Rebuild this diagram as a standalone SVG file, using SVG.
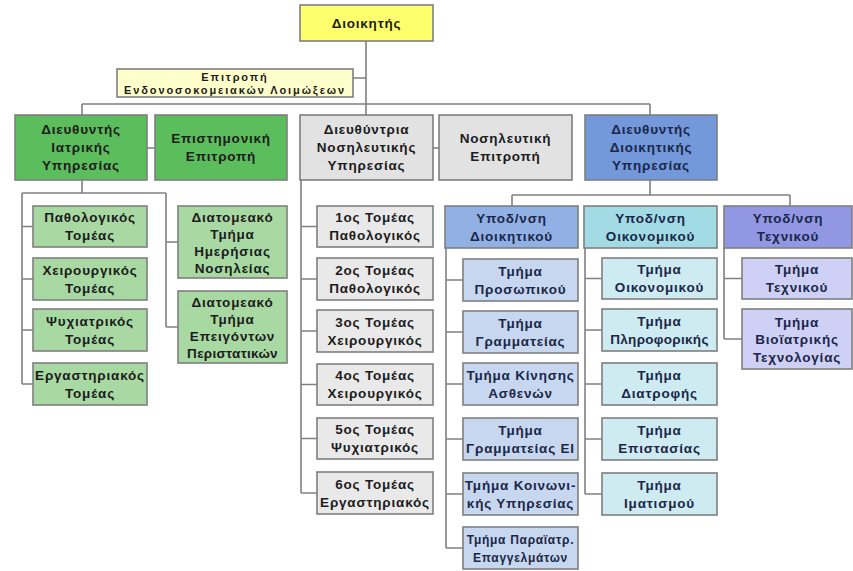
<svg xmlns="http://www.w3.org/2000/svg" width="853" height="571" viewBox="0 0 853 571">
  <style>
    .bx { stroke: #7f7f7f; stroke-width: 1.6; }
    .t { font-family: "Liberation Sans", Arial, "DejaVu Sans", sans-serif; font-weight: bold; font-size: 13.5px; letter-spacing: 0.8px; text-anchor: middle; fill: #1c1c1c; }
    .s { font-size: 12px; letter-spacing: 0.7px; }
    .c { font-size: 11px; letter-spacing: 1.9px; }
    .k { letter-spacing: 0.3px; }
    .n { fill: #1b2748; }
    .yel { fill: #ffff6e; }
    .lyel { fill: #ffffcc; }
    .grn { fill: #5cbd5c; }
    .lgrn { fill: #a8d9a3; }
    .gry { fill: #e2e2e2; }
    .lgry { fill: #e9e9e9; }
    .blu { fill: #7399db; }
    .adm { fill: #91b1e4; }
    .ladm { fill: #c7d7ef; }
    .eco { fill: #a3dbe5; }
    .leco { fill: #cdebf1; }
    .tec { fill: #9297e3; }
    .ltec { fill: #cfd0f6; }
    #connectors path { fill: none; stroke: #808080; stroke-width: 1.6; }
  </style>
  <rect width="853" height="571" fill="#ffffff"/>

  <g id="connectors">
    <!-- top trunk and main bus -->
    <path d="M366,41 V104 M353,78 H366 M82,104 H650 M82,104 V115 M366,104 V115 M650,104 V115"/>
    <!-- side committees -->
    <path d="M147,148 H155 M433,148 H439"/>
    <!-- medical services -->
    <path d="M82,180 V193 M22,193 H166 M22,193 V384 M22,226.5 H33 M22,279 H33 M22,330 H33 M22,384 H33"/>
    <path d="M166,193 V327 M166,242 H178 M166,327 H178"/>
    <!-- nursing services -->
    <path d="M301,180 V493 M301,226.5 H317 M301,279 H317 M301,331 H317 M301,384.5 H317 M301,438.5 H317 M301,493 H317"/>
    <!-- administrative services -->
    <path d="M650,180 V195 M512,195 H790 M512,195 V206 M790,195 V206"/>
    <path d="M446,248 V548 M446,280 H463 M446,332 H463 M446,384 H463 M446,439 H463 M446,494 H463 M446,548 H463"/>
    <path d="M585,248 V494 M585,278.5 H602 M585,330 H602 M585,384 H602 M585,439 H602 M585,494 H602"/>
    <path d="M724,248 V339 M724,278.5 H742 M724,339 H742"/>
  </g>

  <g id="director">
    <rect class="bx yel" x="300" y="5" width="133" height="36"/>
    <text class="t" x="366.5" y="27.5">Διοικητής</text>
  </g>

  <g id="infection-committee">
    <rect class="bx lyel" x="117" y="69" width="236" height="28"/>
    <text class="t c" x="235" y="80.5">Επιτροπή</text>
    <text class="t c" x="235" y="93.5">Ενδονοσοκομειακών Λοιμώξεων</text>
  </g>

  <!-- medical services -->
  <g id="medical-director">
    <rect class="bx grn" x="15" y="115" width="132" height="65"/>
    <text class="t" x="81" y="134">Διευθυντής</text>
    <text class="t" x="81" y="152">Ιατρικής</text>
    <text class="t" x="81" y="170">Υπηρεσίας</text>
  </g>
  <g id="scientific-committee">
    <rect class="bx grn" x="155" y="115" width="132" height="65"/>
    <text class="t" x="221" y="143">Επιστημονική</text>
    <text class="t" x="221" y="161">Επιτροπή</text>
  </g>
  <g id="pathology">
    <rect class="bx lgrn" x="33" y="206" width="114" height="41"/>
    <text class="t" x="90" y="222">Παθολογικός</text>
    <text class="t" x="90" y="240">Τομέας</text>
  </g>
  <g id="surgery">
    <rect class="bx lgrn" x="33" y="258" width="114" height="42"/>
    <text class="t" x="90" y="274.5">Χειρουργικός</text>
    <text class="t" x="90" y="292.5">Τομέας</text>
  </g>
  <g id="psychiatry">
    <rect class="bx lgrn" x="33" y="309" width="114" height="42"/>
    <text class="t" x="90" y="325.5">Ψυχιατρικός</text>
    <text class="t" x="90" y="343.5">Τομέας</text>
  </g>
  <g id="laboratory">
    <rect class="bx lgrn" x="33" y="363" width="114" height="42"/>
    <text class="t" x="90" y="379.5">Εργαστηριακός</text>
    <text class="t" x="90" y="397.5">Τομέας</text>
  </g>
  <g id="day-care">
    <rect class="bx lgrn" x="178" y="206" width="109" height="72"/>
    <text class="t" x="232.5" y="221.5">Διατομεακό</text>
    <text class="t" x="232.5" y="238.5">Τμήμα</text>
    <text class="t" x="232.5" y="255.5">Ημερήσιας</text>
    <text class="t" x="232.5" y="272.5">Νοσηλείας</text>
  </g>
  <g id="emergency">
    <rect class="bx lgrn" x="178" y="291" width="109" height="72"/>
    <text class="t" x="232.5" y="306.5">Διατομεακό</text>
    <text class="t" x="232.5" y="323.5">Τμήμα</text>
    <text class="t" x="232.5" y="340.5">Επειγόντων</text>
    <text class="t k" x="232.5" y="357.5">Περιστατικών</text>
  </g>

  <!-- nursing services -->
  <g id="nursing-director">
    <rect class="bx gry" x="300" y="115" width="133" height="65"/>
    <text class="t" x="366.5" y="134">Διευθύντρια</text>
    <text class="t" x="366.5" y="152">Νοσηλευτικής</text>
    <text class="t" x="366.5" y="170">Υπηρεσίας</text>
  </g>
  <g id="nursing-committee">
    <rect class="bx gry" x="439" y="115" width="133" height="65"/>
    <text class="t" x="505.5" y="143">Νοσηλευτική</text>
    <text class="t" x="505.5" y="161">Επιτροπή</text>
  </g>
  <g id="sector-1">
    <rect class="bx lgry" x="317" y="206" width="116" height="41"/>
    <text class="t" x="375" y="222">1ος Τομέας</text>
    <text class="t" x="375" y="240">Παθολογικός</text>
  </g>
  <g id="sector-2">
    <rect class="bx lgry" x="317" y="258" width="116" height="42"/>
    <text class="t" x="375" y="274.5">2ος Τομέας</text>
    <text class="t" x="375" y="292.5">Παθολογικός</text>
  </g>
  <g id="sector-3">
    <rect class="bx lgry" x="317" y="310" width="116" height="42"/>
    <text class="t" x="375" y="326.5">3ος Τομέας</text>
    <text class="t" x="375" y="344.5">Χειρουργικός</text>
  </g>
  <g id="sector-4">
    <rect class="bx lgry" x="317" y="364" width="116" height="41"/>
    <text class="t" x="375" y="380">4ος Τομέας</text>
    <text class="t" x="375" y="398">Χειρουργικός</text>
  </g>
  <g id="sector-5">
    <rect class="bx lgry" x="317" y="418" width="116" height="41"/>
    <text class="t" x="375" y="434">5ος Τομέας</text>
    <text class="t" x="375" y="452">Ψυχιατρικός</text>
  </g>
  <g id="sector-6">
    <rect class="bx lgry" x="317" y="472" width="116" height="42"/>
    <text class="t" x="375" y="488.5">6ος Τομέας</text>
    <text class="t" x="375" y="506.5">Εργαστηριακός</text>
  </g>

  <!-- administrative services -->
  <g id="admin-director">
    <rect class="bx blu" x="585" y="115" width="132" height="65"/>
    <text class="t n" x="651" y="134">Διευθυντής</text>
    <text class="t n" x="651" y="152">Διοικητικής</text>
    <text class="t n" x="651" y="170">Υπηρεσίας</text>
  </g>
  <g id="admin-division">
    <rect class="bx adm" x="445" y="206" width="133" height="42"/>
    <text class="t n" x="511.5" y="222.5">Υποδ/νση</text>
    <text class="t n" x="511.5" y="240.5">Διοικητικού</text>
  </g>
  <g id="finance-division">
    <rect class="bx eco" x="584" y="206" width="133" height="42"/>
    <text class="t n" x="650.5" y="222.5">Υποδ/νση</text>
    <text class="t n" x="650.5" y="240.5">Οικονομικού</text>
  </g>
  <g id="technical-division">
    <rect class="bx tec" x="724" y="206" width="128" height="42"/>
    <text class="t n" x="788" y="222.5">Υποδ/νση</text>
    <text class="t n" x="788" y="240.5">Τεχνικού</text>
  </g>

  <g id="personnel">
    <rect class="bx ladm" x="463" y="259" width="115" height="42"/>
    <text class="t n" x="520.5" y="275.5">Τμήμα</text>
    <text class="t n" x="520.5" y="293.5">Προσωπικού</text>
  </g>
  <g id="secretariat">
    <rect class="bx ladm" x="463" y="311" width="115" height="42"/>
    <text class="t n" x="520.5" y="327.5">Τμήμα</text>
    <text class="t n" x="520.5" y="345.5">Γραμματείας</text>
  </g>
  <g id="patient-flow">
    <rect class="bx ladm" x="463" y="363" width="115" height="42"/>
    <text class="t n" x="520.5" y="379.5">Τμήμα Κίνησης</text>
    <text class="t n" x="520.5" y="397.5">Ασθενών</text>
  </g>
  <g id="secretariat-ei">
    <rect class="bx ladm" x="463" y="418" width="115" height="42"/>
    <text class="t n" x="520.5" y="434.5">Τμήμα</text>
    <text class="t n" x="520.5" y="452.5">Γραμματείας ΕΙ</text>
  </g>
  <g id="social-service">
    <rect class="bx ladm" x="463" y="473" width="115" height="42"/>
    <text class="t n" x="520.5" y="489.5">Τμήμα Κοινωνι-</text>
    <text class="t n" x="520.5" y="507.5">κής Υπηρεσίας</text>
  </g>
  <g id="paramedical">
    <rect class="bx ladm" x="463" y="527" width="115" height="42"/>
    <text class="t n s" x="520.5" y="543.5">Τμήμα Παραϊατρ.</text>
    <text class="t n s" x="520.5" y="561.5">Επαγγελμάτων</text>
  </g>

  <g id="finance">
    <rect class="bx leco" x="602" y="258" width="115" height="41"/>
    <text class="t n" x="659.5" y="274">Τμήμα</text>
    <text class="t n" x="659.5" y="292">Οικονομικού</text>
  </g>
  <g id="informatics">
    <rect class="bx leco" x="602" y="309" width="115" height="42"/>
    <text class="t n" x="659.5" y="325.5">Τμήμα</text>
    <text class="t n k" x="659.5" y="343.5">Πληροφορικής</text>
  </g>
  <g id="catering">
    <rect class="bx leco" x="602" y="363" width="115" height="42"/>
    <text class="t n" x="659.5" y="379.5">Τμήμα</text>
    <text class="t n" x="659.5" y="397.5">Διατροφής</text>
  </g>
  <g id="supervision">
    <rect class="bx leco" x="602" y="418" width="115" height="42"/>
    <text class="t n" x="659.5" y="434.5">Τμήμα</text>
    <text class="t n" x="659.5" y="452.5">Επιστασίας</text>
  </g>
  <g id="linen">
    <rect class="bx leco" x="602" y="473" width="115" height="42"/>
    <text class="t n" x="659.5" y="489.5">Τμήμα</text>
    <text class="t n" x="659.5" y="507.5">Ιματισμού</text>
  </g>

  <g id="technical">
    <rect class="bx ltec" x="742" y="258" width="110" height="41"/>
    <text class="t n" x="797" y="274">Τμήμα</text>
    <text class="t n" x="797" y="292">Τεχνικού</text>
  </g>
  <g id="biomedical">
    <rect class="bx ltec" x="742" y="309" width="110" height="60"/>
    <text class="t n" x="797" y="326.5">Τμήμα</text>
    <text class="t n" x="797" y="344">Βιοϊατρικής</text>
    <text class="t n" x="797" y="361.5">Τεχνολογίας</text>
  </g>
</svg>
